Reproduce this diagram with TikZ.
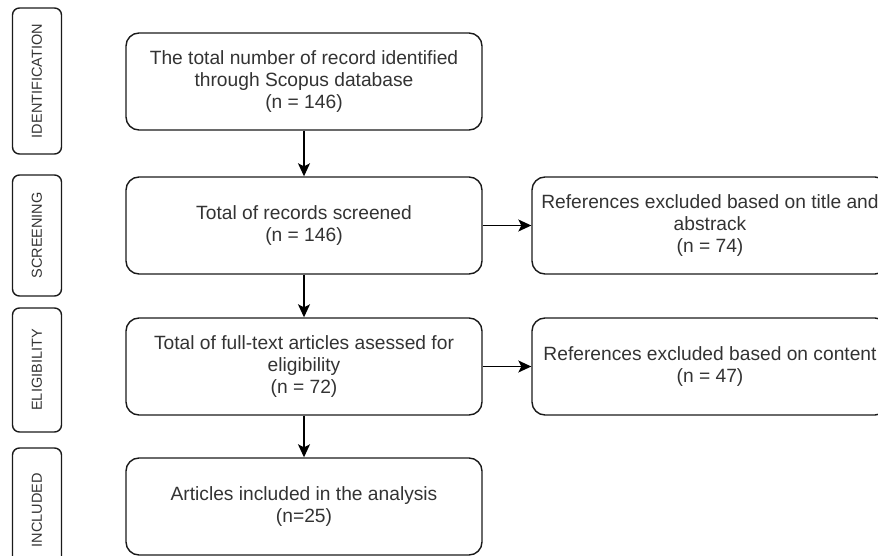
\documentclass[tikz,border=0pt]{standalone}
\usepackage{fontspec}
\setmainfont{Liberation Sans}
\usetikzlibrary{arrows.meta}
\definecolor{txt}{HTML}{333333}
\definecolor{edge}{HTML}{1A1A1A}
\begin{document}
\begin{tikzpicture}[x=1pt,y=-1pt,
  box/.style={draw=edge, line width=1.4pt, rounded corners=13pt, align=center, text=txt,
    font=\fontsize{19.2}{22}\selectfont, inner sep=0pt, minimum width=356pt, minimum height=97pt},
  lbl/.style={draw=edge, line width=1.4pt, rounded corners=7pt, text=txt, rotate=90,
    font=\fontsize{14.5}{16}\selectfont, inner sep=0pt, minimum height=49pt},
  arr/.style={draw=black, line width=1.4pt, -{Stealth[length=13pt,width=12pt,inset=3pt]}}]
\useasboundingbox (0,0) rectangle (878,556);
% stage labels
\node[lbl, minimum width=146pt] (l1) at (37,81) {IDENTIFICATION};
\node[lbl, minimum width=121pt] (l2) at (37,235.5) {SCREENING};
\node[lbl, minimum width=124pt] (l3) at (37,370) {ELIGIBILITY};
\node[lbl, minimum width=124pt] (l4) at (37,510) {INCLUDED};
% main boxes
\node[box] (b1) at (304,81.5) {The total number of record identified\\through Scopus database\\(n = 146)};
\node[box] (b2) at (304,225.5) {Total of records screened\\(n = 146)};
\node[box] (b3) at (304,366.5) {Total of full-text articles asessed for\\eligibility\\(n = 72)};
\node[box] (b4) at (304,506.5) {Articles included in the analysis\\(n=25)};
% exclusion boxes
\node[box] (r1) at (710,225.5) {References excluded based on title and\\abstrack\\(n = 74)};
\node[box] (r2) at (710,366.5) {References excluded based on content\\(n = 47)};
% connectors
\draw[arr] (b1) -- (b2);
\draw[arr] (b2) -- (b3);
\draw[arr] (b3) -- (b4);
\draw[arr] (b2) -- (r1);
\draw[arr] (b3) -- (r2);
\end{tikzpicture}
\end{document}
